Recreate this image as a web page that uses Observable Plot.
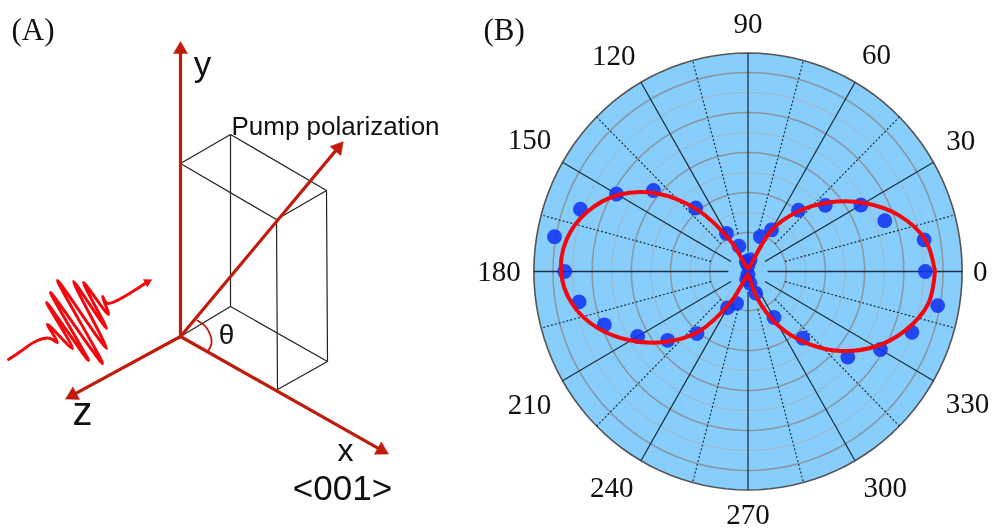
<!DOCTYPE html>
<html>
<head>
<meta charset="utf-8">
<script src="https://cdn.jsdelivr.net/npm/d3@7"></script>
<script src="https://cdn.jsdelivr.net/npm/@observablehq/plot@0.6"></script>
<style>
html,body{margin:0;padding:0;background:#fff;overflow:hidden}
#root{display:flex;width:992px;height:529px}
svg{display:block;filter:blur(0.35px)}
</style>
</head>
<body>
<div id="root"></div>
<script>
// ---------- Panel B: polar data (angle in degrees, radius in arbitrary units) ----------
const angles = d3.range(0, 360, 10);
const measured = [181,182.5,148.5,133,103,80,48,37,12,6,10,27,44,83,126,155,182,200.5,
                  187,175,156,130,107,81,42,34,8,3,12,23,53,87,133,156,178,196.5];
const fitted = [190.8,183.6,164,137,107.3,77.7,47.2,5,3,3,3,5,34,80.7,121.4,153,174.5,187.7,
                190.8,182.6,164,138,109.3,78.7,35,6,3,3,5,30.1,63.3,93.8,123.5,150,171.3,186.7];
const strongRings = [39,79,119,159,199];
const lightRings = [59,99,139,179];
const rimRadius = 218.5;
const solidSpokes = [0,30,60,90,120,150,180,210,240,270,300,330];
const dottedSpokes = [15,45,75,105,135,165,195,225,255,285,315,345];
const tickLabels = [0,30,60,90,120,150,180,210,240,270,300,330];
const tickX = [237,217,131,0,-137,-223,-254,-223,-139,0,140,224];
const tickY = [0,131,217,248,216,132,0,-133,-216,-243,-216,-132];

// ---------- Panel A: schematic geometry ----------
const axes = [
  {name:"y", x1:180,y1:336,x2:180,y2:42},
  {name:"pump", x1:180,y1:336,x2:342,y2:142},
  {name:"z", x1:180,y1:336,x2:66,y2:398},
  {name:"x", x1:180,y1:336,x2:387,y2:453}
];
const crystalEdges = [
  [180,163,230,134],[230,134,326,190],[326,190,276,219],[276,219,180,163],
  [230,134,230,306],[326,190,327,361],[276,219,277,389],
  [180,336,230,306],[230,306,327,361],[327,361,277,389]
];
const thetaArc = [[197,320],[205,326],[210,335],[211,343],[208,350]];
const pulse = [[8,359],[20,351],[33,342],[43,338],[50,338],[57,342],[47,324],[72,348],[46,302],
  [88,360],[50,292],[102,363],[57,280],[106,348],[73,281],[106,328],[83,282],[108,314],[102,296],
  [107,303],[146,282]];
const pulseHead = [[147,281.5]];
const labelsA = [
  {t:"y",x:202,y:64,s:35},{t:"z",x:82,y:412,s:40},{t:"x",x:345,y:450,s:32},
  {t:"<001>",x:342,y:488,s:35},{t:"θ",x:226,y:335,s:28},{t:"Pump polarization",x:335,y:126,s:26}
];

const red = "#bf1c0c";
const headOf = a => {
  const L = Math.hypot(a.x2-a.x1,a.y2-a.y1), ux=(a.x2-a.x1)/L, uy=(a.y2-a.y1)/L;
  return {x:a.x2-ux*7, y:a.y2-uy*7, rot:Math.atan2(ux,-uy)*180/Math.PI};
};

const left = Plot.plot({
  width:460,height:529,margin:0,
  x:{domain:[0,460],range:[0,460],axis:null},
  y:{domain:[0,529],range:[0,529],axis:null},
  marks:[
    Plot.link(crystalEdges,{x1:d=>d[0],y1:d=>d[1],x2:d=>d[2],y2:d=>d[3],stroke:"#222",strokeWidth:1.2}),
    Plot.link(axes,{x1:"x1",y1:"y1",x2:d=>headOf(d).x,y2:d=>headOf(d).y,stroke:red,strokeWidth:3.2}),
    Plot.dot(axes.map(headOf),{x:"x",y:"y",rotate:"rot",symbol:"triangle",r:5.2,fill:red,stroke:red,strokeWidth:0.5}),
    Plot.line(thetaArc,{x:d=>d[0],y:d=>d[1],stroke:red,strokeWidth:1.8,curve:"catmull-rom"}),
    Plot.line(pulse,{x:d=>d[0],y:d=>d[1],stroke:"#f5060c",strokeWidth:3,curve:"catmull-rom",strokeLinejoin:"round",strokeLinecap:"round"}),
    Plot.dot(pulseHead,{x:d=>d[0],y:d=>d[1],rotate:[62],symbol:"triangle",r:3.4,fill:"#f5060c"}),
    Plot.text(labelsA,{x:"x",y:"y",text:"t",fontSize:"s",fontFamily:"Liberation Sans",fill:"#111",lineAnchor:"middle"}),
    Plot.text(["(A)"],{frameAnchor:"top-left",dx:11,dy:17,fontSize:31,fontFamily:"Liberation Serif",fill:"#111"})
  ]
});

// ---------- Panel B ----------
const toXY = (deg,r) => ({x:r*Math.cos(deg*Math.PI/180), y:r*Math.sin(deg*Math.PI/180)});
const sweep = d3.range(0,361,3);
const circlePts = r => sweep.map(a => ({...toXY(a,r), r}));
const W = 532, cx = 287.5, cy = 271, kx = 0.98;
const measuredPts = angles.map((a,i)=>toXY(a,measured[i]));
const fittedPts = [...angles,360].map((a,i)=>toXY(a,fitted[i%36]));
const spokePts = (list,r0) => list.map(a=>({a:toXY(a,r0),b:toXY(a,rimRadius)}));

const right = Plot.plot({
  width:W,height:529,margin:0,
  x:{domain:[-cx/kx,(W-cx)/kx],range:[0,W],axis:null},
  y:{domain:[cy,cy-529],range:[0,529],axis:null},
  marks:[
    Plot.line(circlePts(rimRadius),{x:"x",y:"y",fill:"#87cefc",stroke:"#555",strokeWidth:1.6}),
    Plot.line(lightRings.flatMap(circlePts),{x:"x",y:"y",z:"r",stroke:"#a4b6c2",strokeWidth:1}),
    Plot.line(strongRings.flatMap(circlePts),{x:"x",y:"y",z:"r",stroke:"#8a98a2",strokeWidth:1.6}),
    Plot.link(spokePts(dottedSpokes,39),{x1:d=>d.a.x,y1:d=>d.a.y,x2:d=>d.b.x,y2:d=>d.b.y,stroke:"#1d3340",strokeWidth:1.2,strokeDasharray:"2,2"}),
    Plot.link(spokePts(solidSpokes,20),{x1:d=>d.a.x,y1:d=>d.a.y,x2:d=>d.b.x,y2:d=>d.b.y,stroke:"#1d3340",strokeWidth:1.3}),
    Plot.dot(measuredPts,{x:"x",y:"y",r:7.4,fill:"#1030f5",fillOpacity:0.85}),
    Plot.line(fittedPts,{x:"x",y:"y",stroke:"#f4070f",strokeWidth:4,curve:"catmull-rom"}),
    Plot.text(tickLabels,{x:(d,i)=>tickX[i],y:(d,i)=>tickY[i],text:d=>String(d),
      fontSize:29,fontFamily:"Liberation Serif",fill:"#111",lineAnchor:"middle"}),
    Plot.text(["(B)"],{frameAnchor:"top-left",dx:23,dy:17,fontSize:31,fontFamily:"Liberation Serif",fill:"#111"})
  ]
});
document.getElementById("root").append(left,right);
</script>
</body>
</html>
